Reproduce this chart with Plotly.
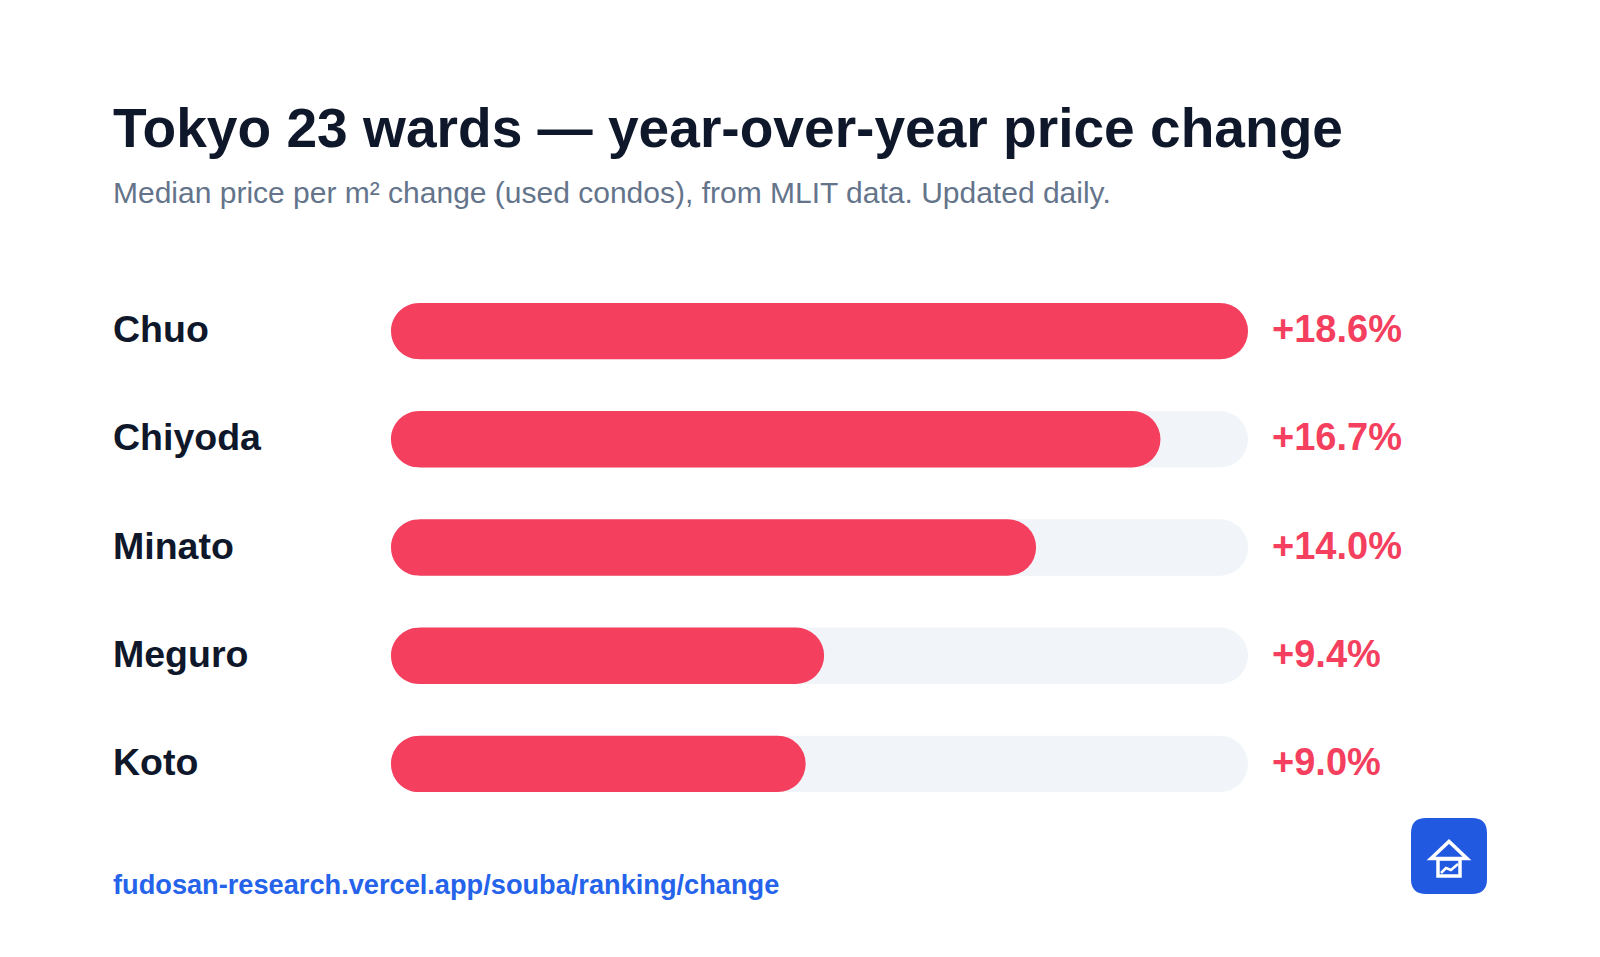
import plotly.graph_objects as go

# Chart data
wards = ["Chuo", "Chiyoda", "Minato", "Meguro", "Koto"]
changes = [18.6, 16.7, 14.0, 9.4, 9.0]
value_labels = ["+18.6%", "+16.7%", "+14.0%", "+9.4%", "+9.0%"]
axis_max = 18.6

title_text = "Tokyo 23 wards — year-over-year price change"
subtitle_text = "Median price per m² change (used condos), from MLIT data. Updated daily."
link_text = "fudosan-research.vercel.app/souba/ranking/change"

W, H = 1600, 957
LEFT, RIGHT, TOP, BOTTOM = 391, 1248, 277, 818
FONT = "Liberation Sans"
INK = "#0f172a"
RED = "#f43f5e"
TRACK = "#f1f5f9"
SLATE = "#64748b"
BLUE = "#2563eb"
BAR_WIDTH = 0.521
RADIUS = 28.2


def px(x):
    return (x - LEFT) / (RIGHT - LEFT)


def py(y):
    return (BOTTOM - y) / (BOTTOM - TOP)


def text(x, y, s, size, color, bold=False):
    return dict(
        xref="paper", yref="paper", x=px(x), y=py(y), text=f"<b>{s}</b>" if bold else s,
        showarrow=False, xanchor="left", yanchor="middle", align="left",
        font=dict(family=FONT, size=size, color=color),
    )


def path(points, close=True):
    d = "M " + " L ".join(f"{px(x):.5f} {py(y):.5f}" for x, y in points)
    return d + (" Z" if close else "")


fig = go.Figure()

# Full-length track behind each bar
fig.add_bar(
    y=wards, x=[axis_max] * len(wards), orientation="h", width=BAR_WIDTH,
    marker=dict(color=TRACK, cornerradius=RADIUS, line_width=0), hoverinfo="skip",
)
# Measured change per ward, on its own overlaid axes so each tip rounds independently
fig.add_bar(
    y=wards, x=changes, orientation="h", width=BAR_WIDTH, xaxis="x2", yaxis="y2",
    marker=dict(color=RED, cornerradius=RADIUS, line_width=0),
)

annotations = [
    text(111, 128, title_text, 55.1, INK, bold=True),
    text(111, 192, subtitle_text, 30, SLATE),
    text(111, 884, link_text, 27.2, BLUE, bold=True),
]
for ward, label in zip(wards, value_labels):
    annotations.append(dict(
        xref="paper", yref="y", x=px(1270), y=ward, yshift=2, text=f"<b>{label}</b>", showarrow=False,
        xanchor="left", yanchor="middle", font=dict(family=FONT, size=38, color=RED),
    ))
    annotations.append(dict(
        xref="paper", yref="y", x=px(111), y=ward, yshift=2, text=f"<b>{ward}</b>", showarrow=False,
        xanchor="left", yanchor="middle", font=dict(family=FONT, size=37.5, color=INK),
    ))

# Rounded app badge with a house-and-chart glyph
bx0, bx1, by0, by1, r = 1411, 1487, 818, 894, 15
badge = (
    f"M {px(bx0 + r):.5f} {py(by0):.5f} L {px(bx1 - r):.5f} {py(by0):.5f} "
    f"Q {px(bx1):.5f} {py(by0):.5f} {px(bx1):.5f} {py(by0 + r):.5f} "
    f"L {px(bx1):.5f} {py(by1 - r):.5f} Q {px(bx1):.5f} {py(by1):.5f} {px(bx1 - r):.5f} {py(by1):.5f} "
    f"L {px(bx0 + r):.5f} {py(by1):.5f} Q {px(bx0):.5f} {py(by1):.5f} {px(bx0):.5f} {py(by1 - r):.5f} "
    f"L {px(bx0):.5f} {py(by0 + r):.5f} Q {px(bx0):.5f} {py(by0):.5f} {px(bx0 + r):.5f} {py(by0):.5f} Z"
)
glyph_line = dict(color="white", width=3.5)
shapes = [
    dict(type="path", xref="paper", yref="paper", path=badge, fillcolor="#2159e1", line_width=0),
    dict(type="path", xref="paper", yref="paper", line=glyph_line,
         path=path([(1431, 858.5), (1449, 841.5), (1467, 858.5)])),
    dict(type="path", xref="paper", yref="paper", line=glyph_line,
         path=path([(1438, 859), (1460, 859), (1460, 876), (1438, 876)])),
    dict(type="path", xref="paper", yref="paper", line=dict(color="white", width=2.5),
         path=path([(1441, 873), (1446, 868), (1451, 870), (1458, 864)], close=False)),
]

# Bars only round their tips, so the left ends are trimmed with pixel-sized corner pieces
k = 0.5523 * RADIUS
h = RADIUS
left_trim = (
    f"M -3,{h + 1} L {RADIUS},{h + 1} L {RADIUS},{h} "
    f"C {RADIUS - k},{h} 0,{k} 0,0 C 0,{-k} {RADIUS - k},{-h} {RADIUS},{-h} "
    f"L {RADIUS},{-h - 1} L -3,{-h - 1} Z"
)
for ward in wards:
    shapes.append(dict(
        type="path", xref="x", yref="y", xsizemode="pixel", ysizemode="pixel",
        xanchor=0, yanchor=ward, path=left_trim, fillcolor="white", line_width=0,
    ))

y_range = [len(wards) - 0.5, -0.5]
fig.update_layout(
    width=W, height=H, barmode="overlay", showlegend=False,
    margin=dict(l=LEFT, r=W - RIGHT, t=TOP, b=H - BOTTOM, pad=0),
    paper_bgcolor="white", plot_bgcolor="white",
    xaxis=dict(range=[0, axis_max], visible=False, fixedrange=True),
    yaxis=dict(range=y_range, visible=False, fixedrange=True),
    xaxis2=dict(range=[0, axis_max], visible=False, fixedrange=True, overlaying="x"),
    yaxis2=dict(range=y_range, visible=False, fixedrange=True, overlaying="y"),
    annotations=annotations, shapes=shapes,
)

fig.write_html("out.html")
